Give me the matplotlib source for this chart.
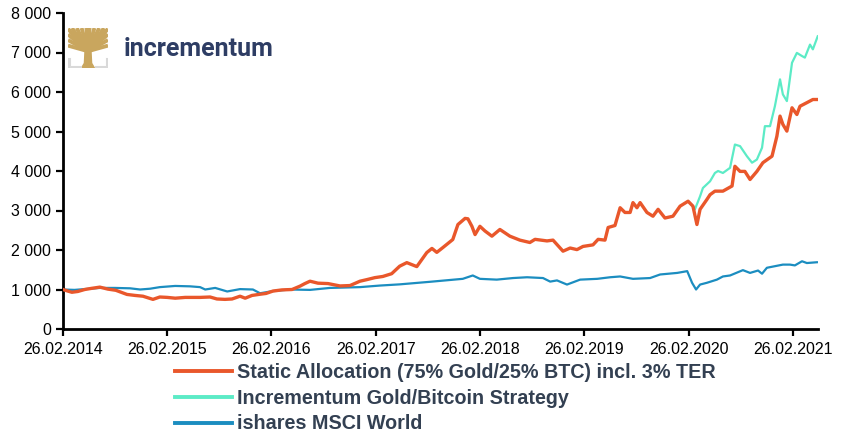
import matplotlib
matplotlib.use("Agg")
from matplotlib import pyplot as plt
import matplotlib.dates as mdates
import numpy as np
import pandas as pd

plt.rcParams['font.family'] = ['Liberation Sans', 'DejaVu Sans']

# Static Allocation (75% Gold / 25% BTC) incl. 3% TER
static_dates = [
    "2014-02-26", "2014-03-15", "2014-03-29", "2014-04-19", "2014-05-13", "2014-06-07",
    "2014-07-05", "2014-08-02", "2014-08-30", "2014-10-08", "2014-11-05", "2014-12-03",
    "2015-01-07", "2015-01-31", "2015-02-26", "2015-03-26", "2015-04-30", "2015-06-21",
    "2015-07-26", "2015-08-19", "2015-09-16", "2015-10-11", "2015-11-08", "2015-11-26",
    "2015-12-20", "2016-01-17", "2016-02-07", "2016-03-02", "2016-04-03", "2016-05-08",
    "2016-06-05", "2016-06-22", "2016-07-10", "2016-08-07", "2016-09-11", "2016-10-23",
    "2016-11-27", "2017-01-01", "2017-01-25", "2017-02-22", "2017-03-22", "2017-04-22",
    "2017-05-20", "2017-06-14", "2017-07-19", "2017-08-23", "2017-09-10", "2017-09-27",
    "2017-10-18", "2017-11-22", "2017-12-10", "2018-01-04", "2018-01-14", "2018-01-28",
    "2018-02-08", "2018-02-25", "2018-03-15", "2018-04-08", "2018-05-06", "2018-06-10",
    "2018-07-15", "2018-08-19", "2018-09-06", "2018-10-18", "2018-11-08", "2018-12-13",
    "2019-01-07", "2019-01-31", "2019-02-21", "2019-03-28", "2019-04-15", "2019-05-09",
    "2019-05-20", "2019-06-13", "2019-07-01", "2019-07-18", "2019-08-05", "2019-08-15",
    "2019-08-29", "2019-09-09", "2019-10-03", "2019-10-24", "2019-11-11", "2019-12-05",
    "2020-01-02", "2020-01-27", "2020-02-24", "2020-03-12", "2020-03-26", "2020-04-06",
    "2020-04-30", "2020-05-11", "2020-05-28", "2020-06-25", "2020-07-27", "2020-08-06",
    "2020-08-24", "2020-09-10", "2020-09-28", "2020-10-22", "2020-11-12", "2020-12-14",
    "2020-12-31", "2021-01-11", "2021-01-21", "2021-02-04", "2021-02-22", "2021-03-11",
    "2021-03-22", "2021-04-15", "2021-05-06", "2021-05-20",
]
static_vals = [
    1000, 960, 930, 950, 1000, 1030,
    1060, 1010, 980, 875, 850, 830,
    750, 810, 800, 780, 800, 800,
    810, 760, 750, 760, 830, 780,
    850, 880, 900, 960, 990, 1000,
    1085, 1150, 1210, 1160, 1150, 1090,
    1100, 1210, 1250, 1300, 1330, 1400,
    1590, 1680, 1580, 1935, 2040, 1940,
    2060, 2265, 2645, 2800, 2790, 2600,
    2390, 2600, 2480, 2350, 2520, 2350,
    2250, 2190, 2270, 2230, 2250, 1970,
    2050, 2010, 2090, 2130, 2270, 2250,
    2570, 2620, 3070, 2950, 2950, 3200,
    3070, 3200, 2950, 2855, 3030, 2810,
    2855, 3110, 3235, 3110, 2645, 3030,
    3280, 3400, 3490, 3490, 3620, 4120,
    3990, 3990, 3785, 3990, 4210, 4375,
    4880, 5390, 5180, 5010, 5600, 5430,
    5640, 5730, 5810, 5810,
]

# Incrementum Gold/Bitcoin Strategy
strat_dates = [
    "2020-02-24", "2020-03-12", "2020-03-19", "2020-04-06", "2020-04-16", "2020-05-11",
    "2020-05-28", "2020-06-08", "2020-06-25", "2020-07-20", "2020-08-06", "2020-08-24",
    "2020-09-17", "2020-10-05", "2020-10-22", "2020-11-09", "2020-11-19", "2020-12-07",
    "2020-12-24", "2021-01-11", "2021-01-21", "2021-02-04", "2021-02-22", "2021-03-11",
    "2021-03-29", "2021-04-08", "2021-04-26", "2021-05-06", "2021-05-23",
]
strat_vals = [
    3235, 3110, 3030, 3360, 3570, 3740,
    3950, 4000, 3950, 4080, 4670, 4630,
    4375, 4210, 4290, 4590, 5135, 5135,
    5640, 6320, 5940, 5770, 6740, 6990,
    6910, 6870, 7200, 7080, 7410,
]

# ishares MSCI World
msci_dates = [
    "2014-02-26", "2014-04-07", "2014-05-13", "2014-07-05", "2014-08-27", "2014-10-19",
    "2014-11-23", "2014-12-28", "2015-01-31", "2015-03-26", "2015-05-17", "2015-06-21",
    "2015-07-09", "2015-08-13", "2015-09-24", "2015-11-08", "2015-12-23", "2016-01-17",
    "2016-03-02", "2016-05-01", "2016-07-10", "2016-09-18", "2017-01-01", "2017-03-12",
    "2017-05-20", "2017-09-03", "2017-12-27", "2018-01-31", "2018-02-25", "2018-04-25",
    "2018-06-21", "2018-08-09", "2018-10-04", "2018-10-29", "2018-11-22", "2018-12-27",
    "2019-02-11", "2019-04-12", "2019-05-27", "2019-07-01", "2019-08-15", "2019-10-14",
    "2019-11-18", "2020-01-17", "2020-02-21", "2020-03-09", "2020-03-23", "2020-04-06",
    "2020-04-30", "2020-06-04", "2020-06-25", "2020-07-20", "2020-09-03", "2020-09-28",
    "2020-10-26", "2020-11-09", "2020-11-26", "2021-01-21", "2021-02-15", "2021-03-04",
    "2021-03-29", "2021-04-15", "2021-05-20",
]
msci_vals = [
    1000, 990, 1010, 1040, 1040, 1030,
    1000, 1020, 1060, 1090, 1080, 1060,
    1000, 1040, 950, 1010, 1000, 905,
    960, 1000, 990, 1040, 1060, 1100,
    1130, 1195, 1270, 1355, 1270, 1250,
    1290, 1310, 1290, 1200, 1230, 1125,
    1250, 1270, 1310, 1330, 1270, 1290,
    1380, 1420, 1465, 1170, 1000, 1125,
    1170, 1250, 1330, 1355, 1490, 1420,
    1480, 1400, 1550, 1630, 1630, 1610,
    1715, 1670, 1690,
]

labels = [
    "Static Allocation (75% Gold/25% BTC) incl. 3% TER",
    "Incrementum Gold/Bitcoin Strategy",
    "ishares MSCI World",
]
tick_dates = ["2014-02-26", "2015-02-26", "2016-02-26", "2017-02-26",
              "2018-02-26", "2019-02-26", "2020-02-26", "2021-02-26"]
y_ticks = [0, 1000, 2000, 3000, 4000, 5000, 6000, 7000, 8000]

c_static = "#E9572B"
c_strat = "#5CEBC6"
c_msci = "#1B8DC0"
c_text = "#334052"

fig = plt.figure(figsize=(8.61, 4.32), dpi=100)
ax = fig.add_axes([63 / 861, 1 - 329 / 432, (818 - 63) / 861, (329 - 13) / 432])

l1, = ax.plot(pd.to_datetime(static_dates), static_vals, color=c_static, lw=2.4, zorder=3)
l2, = ax.plot(pd.to_datetime(strat_dates), strat_vals, color=c_strat, lw=1.6, zorder=2)
l3, = ax.plot(pd.to_datetime(msci_dates), msci_vals, color=c_msci, lw=1.6, zorder=2)

ax.set_xlim(pd.Timestamp("2014-02-26"), pd.Timestamp("2021-05-24"))
ax.set_ylim(0, 8000)
ax.set_xticks(pd.to_datetime(tick_dates))
ax.xaxis.set_major_formatter(mdates.DateFormatter("%d.%m.%Y"))
ax.set_yticks(y_ticks)
ax.set_yticklabels([f"{v:,}".replace(",", " ") for v in y_ticks])
ax.tick_params(axis="both", labelsize=11.5, width=1.6, length=5, direction="out", colors="black")
ax.tick_params(axis="x", pad=4)

for s in ["top", "right"]:
    ax.spines[s].set_visible(False)
for s in ["left", "bottom"]:
    ax.spines[s].set_linewidth(2)

leg = fig.legend([l1, l2, l3], labels, loc="upper left",
                 bbox_to_anchor=(175 / 861, 1 - 363 / 432), frameon=False,
                 borderpad=0, borderaxespad=0, handlelength=2.9, handletextpad=0.25,
                 labelspacing=0.34, prop={"weight": "bold", "size": 14.2})
for t in leg.get_texts():
    t.set_color(c_text)
for h in leg.get_lines():
    h.set_linewidth(2.8)

# logo
lax = fig.add_axes([68 / 861, 1 - 68 / 432, 40 / 861, 40 / 432])
lax.set_xlim(0, 1)
lax.set_ylim(0, 1)
lax.axis("off")
gold = "#C9A65E"
grey = "#D9D9D9"
lax.fill([0.34, 0.66, 0.59, 0.57, 0.43, 0.41], [0.0, 0.0, 0.12, 0.5, 0.5, 0.12], color=gold)
for xe, ye in [(0.0, 0.98), (0.1, 1.0), (0.22, 1.0), (0.34, 1.0), (0.46, 1.0), (0.54, 1.0),
               (0.66, 1.0), (0.78, 1.0), (0.9, 1.0), (1.0, 0.98), (0.0, 0.84), (1.0, 0.84),
               (0.0, 0.7), (1.0, 0.7), (0.0, 0.56), (1.0, 0.56)]:
    lax.plot([0.5, xe], [0.42, ye], color=gold, lw=2.8, solid_capstyle="butt")
lax.plot([0.03, 0.03, 0.3], [0.22, 0.03, 0.03], color=grey, lw=2.2)
lax.plot([0.7, 0.97, 0.97], [0.03, 0.03, 0.22], color=grey, lw=2.2)
fig.text(124 / 861, 1 - 49 / 432, "incrementum", color="#2E3D64", fontsize=18,
         family=["Roboto", "DejaVu Sans"], weight="bold", va="center", ha="left")

fig.savefig("out.png", dpi=100)
